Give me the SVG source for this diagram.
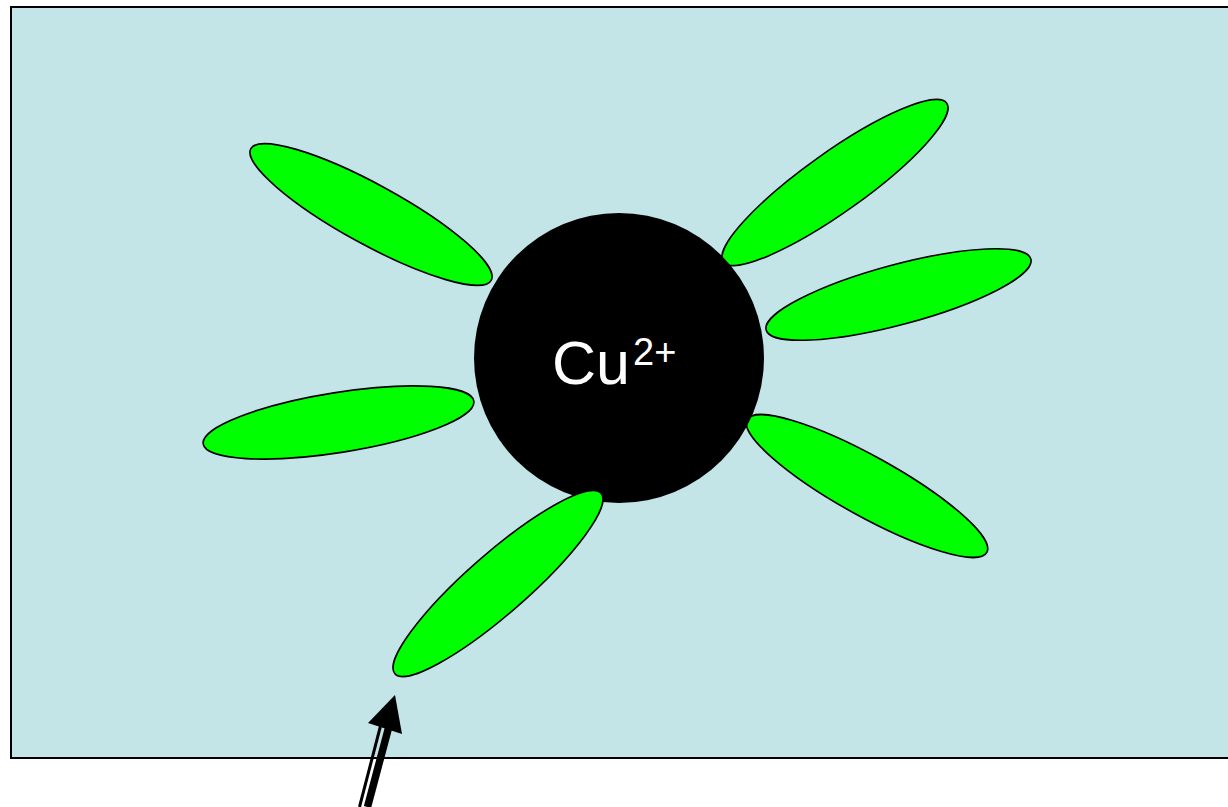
<svg xmlns="http://www.w3.org/2000/svg" width="1228" height="807" viewBox="0 0 1228 807">
<style>
.lobe{fill:#00FF00;stroke:#000;stroke-width:1.6}
.lbl{font-family:"Liberation Sans",Arial,sans-serif;fill:#fff}
</style>
<rect width="1228" height="807" fill="#fff"/>
<g id="background">
<rect x="11" y="7" width="1230" height="751" fill="#C4E5E8" stroke="#000" stroke-width="2"/>
</g>
<g id="lobe-top-left"><ellipse class="lobe" cx="0" cy="0" rx="137" ry="30" transform="translate(371,214.5) rotate(28.7)"/></g>
<g id="lobe-top-right"><ellipse class="lobe" cx="0" cy="0" rx="137" ry="30" transform="translate(835,182.5) rotate(-35.4)"/></g>
<g id="lobe-right"><ellipse class="lobe" cx="0" cy="0" rx="137" ry="30" transform="translate(898.5,294.5) rotate(-15)"/></g>
<g id="lobe-left"><ellipse class="lobe" cx="0" cy="0" rx="137" ry="30" transform="translate(338.5,422.5) rotate(-9)"/></g>
<g id="lobe-right-lower"><ellipse class="lobe" cx="0" cy="0" rx="137" ry="30" transform="translate(867,486) rotate(29)"/></g>
<g id="cu-ion">
<circle cx="619" cy="358" r="145" fill="#000"/>
<text class="lbl" x="552" y="384" font-size="61">Cu</text>
<text class="lbl" x="633" y="365" font-size="38">2+</text>
</g>
<g id="lobe-bottom"><ellipse class="lobe" cx="0" cy="0" rx="137" ry="30" transform="translate(498,583.5) rotate(-41.2)"/></g>
<g id="connectors">
<line x1="359.5" y1="807" x2="380.5" y2="726" stroke="#000" stroke-width="3"/>
<line x1="367.5" y1="807" x2="388.5" y2="728" stroke="#000" stroke-width="7.5"/>
<polygon points="395,695 368,723 402,734" fill="#000"/>
</g>
</svg>
